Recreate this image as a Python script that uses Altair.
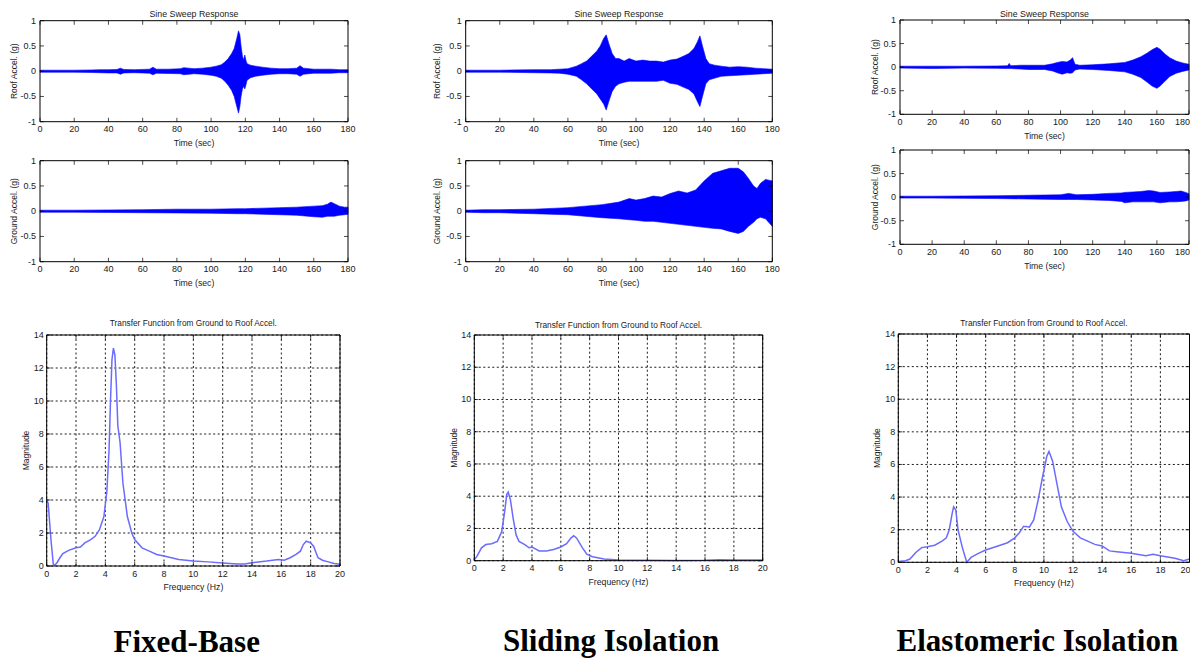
import altair as alt
import pandas as pd

# ---------------- data ----------------
# Fixed-Base : roof acceleration envelope
fb_roof_t = [0, 10, 20, 30, 35, 40, 45, 47, 49, 55, 60, 64, 66, 68, 75, 82, 84, 90, 95, 100, 103, 106, 108, 110, 112,
             113.5, 115, 116, 116.8, 117.5, 118.3, 119, 119.7, 120.3, 121, 123, 126, 130, 135, 140, 145, 150, 152, 154,
             160, 170, 175, 180]
fb_roof_hi = [0.02, 0.02, 0.02, 0.025, 0.03, 0.03, 0.035, 0.06, 0.035, 0.03, 0.035, 0.04, 0.08, 0.04, 0.04, 0.05, 0.07,
              0.05, 0.06, 0.08, 0.1, 0.13, 0.18, 0.25, 0.35, 0.45, 0.65, 0.8, 0.72, 0.5, 0.3, 0.22, 0.32, 0.22, 0.15,
              0.12, 0.1, 0.08, 0.06, 0.05, 0.05, 0.06, 0.11, 0.06, 0.04, 0.04, 0.03, 0.03]
fb_roof_lo = [-0.02, -0.02, -0.02, -0.025, -0.03, -0.035, -0.035, -0.06, -0.035, -0.03, -0.035, -0.04, -0.07, -0.04,
              -0.045, -0.05, -0.07, -0.05, -0.06, -0.08, -0.1, -0.14, -0.2, -0.28, -0.38, -0.5, -0.7, -0.83, -0.7, -0.5,
              -0.35, -0.3, -0.35, -0.28, -0.18, -0.13, -0.1, -0.08, -0.06, -0.05, -0.05, -0.06, -0.1, -0.06, -0.04,
              -0.04, -0.03, -0.03]
# Fixed-Base : ground acceleration envelope
fb_gnd_t = [0, 20, 40, 60, 80, 100, 115, 120, 140, 150, 160, 165, 168, 170, 172, 175, 178, 180]
fb_gnd_hi = [0.02, 0.02, 0.025, 0.03, 0.04, 0.04, 0.05, 0.05, 0.07, 0.08, 0.1, 0.11, 0.14, 0.18, 0.15, 0.1, 0.08, 0.08]
fb_gnd_lo = [-0.02, -0.02, -0.025, -0.03, -0.035, -0.04, -0.05, -0.05, -0.07, -0.08, -0.11, -0.12, -0.1, -0.1, -0.1,
             -0.08, -0.07, -0.06]
# Fixed-Base : transfer function
fb_tf_f = [0, 0.1, 0.3, 0.45, 0.55, 0.7, 0.9, 1.1, 1.5, 2.0, 2.3, 2.6, 3.0, 3.3, 3.6, 3.9, 4.1, 4.25, 4.35, 4.45, 4.55,
           4.65, 4.75, 4.85, 5.0, 5.2, 5.5, 5.8, 6.0, 6.5, 7.0, 7.5, 8, 9, 10, 11, 12, 13, 13.5, 14, 15, 15.8, 16.2,
           16.6, 17.0, 17.3, 17.5, 17.7, 18.0, 18.2, 18.5, 18.8, 19.2, 19.6, 20]
fb_tf_m = [4.0, 3.8, 1.5, 0.1, 0.05, 0.2, 0.5, 0.75, 0.95, 1.1, 1.15, 1.4, 1.6, 1.8, 2.2, 3.0, 4.5, 7.0, 10.0, 12.5,
           13.2, 12.8, 11.0, 8.5, 7.5, 5.0, 3.0, 2.0, 1.6, 1.1, 0.9, 0.7, 0.6, 0.4, 0.3, 0.25, 0.18, 0.12, 0.12, 0.2,
           0.3, 0.4, 0.35, 0.5, 0.7, 0.9, 1.3, 1.5, 1.4, 1.2, 0.5, 0.35, 0.25, 0.15, 0.1]

# Sliding Isolation : roof acceleration envelope
sl_roof_t = [0, 20, 40, 50, 55, 60, 65, 68, 71, 74, 77, 79, 81, 82.5, 84, 86, 88, 90, 93, 96, 100, 104, 108, 112, 116,
             120, 124, 128, 131, 134, 136, 137.5, 139, 141, 143, 146, 150, 155, 160, 165, 170, 175, 180]
sl_roof_hi = [0.02, 0.02, 0.03, 0.03, 0.04, 0.05, 0.1, 0.15, 0.2, 0.3, 0.4, 0.5, 0.65, 0.72, 0.55, 0.35, 0.25, 0.25,
              0.2, 0.25, 0.2, 0.22, 0.2, 0.2, 0.18, 0.22, 0.24, 0.3, 0.35, 0.45, 0.58, 0.7, 0.5, 0.25, 0.15, 0.12, 0.1,
              0.08, 0.09, 0.08, 0.06, 0.05, 0.04]
sl_roof_lo = [-0.02, -0.02, -0.03, -0.035, -0.04, -0.06, -0.1, -0.17, -0.25, -0.35, -0.45, -0.55, -0.65, -0.77, -0.6,
              -0.4, -0.3, -0.25, -0.22, -0.2, -0.2, -0.2, -0.2, -0.2, -0.18, -0.24, -0.26, -0.32, -0.36, -0.45, -0.6,
              -0.7, -0.5, -0.25, -0.17, -0.14, -0.1, -0.09, -0.08, -0.07, -0.06, -0.05, -0.04]
# Sliding Isolation : ground acceleration envelope
sl_gnd_t = [0, 10, 20, 40, 60, 70, 80, 90, 96, 100, 105, 110, 115, 120, 125, 130, 135, 140, 145, 150, 155, 160, 163,
            166, 169, 171, 173, 176, 180]
sl_gnd_hi = [0.02, 0.03, 0.03, 0.04, 0.07, 0.1, 0.13, 0.18, 0.25, 0.22, 0.25, 0.3, 0.28, 0.35, 0.4, 0.36, 0.42, 0.6,
             0.75, 0.8, 0.85, 0.85, 0.78, 0.65, 0.5, 0.45, 0.55, 0.63, 0.6]
sl_gnd_lo = [-0.02, -0.03, -0.03, -0.05, -0.07, -0.1, -0.13, -0.15, -0.17, -0.18, -0.2, -0.2, -0.22, -0.24, -0.26,
             -0.28, -0.3, -0.32, -0.34, -0.35, -0.4, -0.44, -0.4, -0.3, -0.22, -0.15, -0.12, -0.15, -0.3]
# Sliding Isolation : transfer function
sl_tf_f = [0, 0.2, 0.5, 0.8, 1.2, 1.6, 1.9, 2.1, 2.25, 2.35, 2.5, 2.7, 2.9, 3.1, 3.5, 3.8, 4.0, 4.2, 4.5, 5.0, 5.5, 6.0,
           6.4, 6.7, 6.9, 7.1, 7.5, 7.8, 8.2, 9, 10, 12, 14, 16, 17, 18, 20]
sl_tf_m = [0.05, 0.3, 0.8, 1.0, 1.05, 1.2, 1.8, 3.0, 4.1, 4.25, 3.8, 2.6, 1.6, 1.2, 1.0, 0.8, 0.85, 0.75, 0.6, 0.6, 0.7,
           0.85, 1.05, 1.4, 1.55, 1.4, 0.8, 0.4, 0.25, 0.1, 0.05, 0.03, 0.02, 0.03, 0.06, 0.04, 0.05]

# Elastomeric Isolation : roof acceleration envelope
el_roof_t = [0, 20, 40, 60, 67, 68, 69, 75, 80, 90, 95, 98, 101, 104, 106, 107.5, 109, 112, 120, 130, 140, 145, 150,
             154, 157, 160, 162, 165, 168, 172, 176, 180]
el_roof_hi = [0.02, 0.02, 0.02, 0.025, 0.03, 0.08, 0.03, 0.04, 0.04, 0.04, 0.07, 0.1, 0.12, 0.11, 0.15, 0.2, 0.06,
              0.04, 0.05, 0.07, 0.1, 0.15, 0.22, 0.3, 0.37, 0.42, 0.38, 0.28, 0.2, 0.13, 0.09, 0.06]
el_roof_lo = [-0.02, -0.03, -0.02, -0.025, -0.03, -0.03, -0.03, -0.04, -0.05, -0.05, -0.08, -0.12, -0.15, -0.12,
              -0.13, -0.12, -0.06, -0.04, -0.05, -0.07, -0.1, -0.15, -0.22, -0.32, -0.4, -0.45, -0.4, -0.3, -0.2, -0.13,
              -0.09, -0.06]
# Elastomeric Isolation : ground acceleration envelope
el_gnd_t = [0, 20, 40, 60, 80, 100, 105, 110, 120, 130, 138, 140, 145, 150, 155, 158, 162, 168, 172, 175, 178, 180]
el_gnd_hi = [0.02, 0.02, 0.025, 0.03, 0.04, 0.05, 0.08, 0.05, 0.06, 0.08, 0.09, 0.1, 0.11, 0.12, 0.14, 0.13, 0.1,
             0.11, 0.12, 0.13, 0.1, 0.07]
el_gnd_lo = [-0.02, -0.02, -0.025, -0.03, -0.04, -0.05, -0.05, -0.05, -0.06, -0.07, -0.09, -0.12, -0.1, -0.1, -0.1,
             -0.1, -0.12, -0.1, -0.1, -0.09, -0.08, -0.06]
# Elastomeric Isolation : transfer function
el_tf_f = [0, 0.5, 0.8, 1.2, 1.6, 2.0, 2.5, 3.0, 3.3, 3.5, 3.7, 3.8, 3.95, 4.1, 4.4, 4.7, 5.0, 5.5, 6.0, 7.0, 7.5, 8.0,
           8.3, 8.6, 8.8, 9.0, 9.3, 9.6, 9.9, 10.2, 10.35, 10.6, 10.9, 11.2, 11.6, 12.0, 12.5, 13, 13.5, 14, 14.5, 15,
           16, 17, 17.5, 18, 19, 19.6, 20]
el_tf_m = [0.05, 0.1, 0.2, 0.6, 0.9, 0.95, 1.05, 1.3, 1.5, 2.0, 3.0, 3.4, 3.2, 2.0, 0.9, 0.0, 0.3, 0.55, 0.75, 1.05,
           1.2, 1.5, 1.8, 2.2, 2.2, 2.15, 2.6, 3.8, 5.2, 6.5, 6.8, 6.2, 4.8, 3.4, 2.5, 1.9, 1.5, 1.3, 1.1, 1.0, 0.7,
           0.65, 0.55, 0.4, 0.5, 0.4, 0.25, 0.1, 0.2]

# axis ticks and their labels
time_ticks = [0, 20, 40, 60, 80, 100, 120, 140, 160, 180]
time_labels = ["0", "20", "40", "60", "80", "100", "120", "140", "160", "180"]
acc_ticks = [-1, -0.5, 0, 0.5, 1]
acc_labels = ["-1", "-0.5", "0", "0.5", "1"]
freq_ticks = [0, 2, 4, 6, 8, 10, 12, 14, 16, 18, 20]
freq_labels = ["0", "2", "4", "6", "8", "10", "12", "14", "16", "18", "20"]
mag_ticks = [0, 2, 4, 6, 8, 10, 12, 14]
mag_labels = ["0", "2", "4", "6", "8", "10", "12", "14"]
sweep_title = "Sine Sweep Response"
tf_title = "Transfer Function from Ground to Roof Accel."
case_names = ["Fixed-Base", "Sliding Isolation", "Elastomeric Isolation"]

# ---------------- layout / style ----------------
W, H = 1182, 651
OX, OY = 8, 8
FONT = "Liberation Sans"
TXT = "#1a1a1a"


def panel(kind, t, a, b, box, xdom, ydom, xt, xl, yt, yl, xtitle, ytitle,
          title=None, title_off=0, ytitle_off=-29, ylab_off=-4, xtitle_off=21.5,
          label=None, label_x=10, label_off=90, grid=False, flush_last=False):
    L, R, T, B = box
    xs = alt.Scale(domain=xdom, range=[L - OX, R - OX], nice=False, zero=False)
    ys = alt.Scale(domain=ydom, range=[B - OY, T - OY], nice=False, zero=False)

    def X(f):
        return alt.X(f, type="quantitative", scale=xs, axis=None)

    def Y(f):
        return alt.Y(f, type="quantitative", scale=ys, axis=None)

    layers = []
    if grid:
        gx = pd.DataFrame({"v": xt, "y0": ydom[0], "y1": ydom[1]})
        gy = pd.DataFrame({"v": yt, "x0": xdom[0], "x1": xdom[1]})
        layers.append(alt.Chart(gx).mark_rule(color="#000000", strokeWidth=0.9, strokeDash=[2, 2.5]).encode(
            x=X("v"), y=Y("y0"), y2="y1"))
        layers.append(alt.Chart(gy).mark_rule(color="#000000", strokeWidth=0.9, strokeDash=[2, 2.5]).encode(
            y=Y("v"), x=X("x0"), x2="x1"))

    if kind == "area":
        d = pd.DataFrame({"t": t, "hi": a, "lo": b})
        layers.append(alt.Chart(d).mark_area(color="#0000ff", opacity=1, strokeWidth=0.6, stroke="#0000ff").encode(
            x=X("t"), y=Y("hi"), y2="lo"))
    else:
        d = pd.DataFrame({"f": t, "m": a})
        layers.append(alt.Chart(d).mark_line(color="#6b6bff", strokeWidth=1.5).encode(
            x=X("f"), y=Y("m")))

    # frame
    fr = pd.DataFrame({"x0": [xdom[0]], "x1": [xdom[1]], "y0": [ydom[0]], "y1": [ydom[1]],
                       "xm": [(xdom[0] + xdom[1]) / 2], "ym": [(ydom[0] + ydom[1]) / 2],
                       "xtitle": [xtitle], "ytitle": [ytitle]})
    layers.append(alt.Chart(fr).mark_rect(fill="transparent", stroke="#000000", strokeWidth=1).encode(
        x=X("x0"), x2="x1", y=Y("y0"), y2="y1"))

    # inward ticks on all four sides
    tb = pd.DataFrame({"v": xt, "s": xl, "lo": ydom[0], "hi": ydom[1]})
    tl = pd.DataFrame({"v": yt, "s": yl, "lo": xdom[0], "hi": xdom[1]})
    layers.append(alt.Chart(tb).mark_tick(orient="vertical", size=4, thickness=1, color="#000000",
                                          yOffset=-2).encode(x=X("v"), y=Y("lo")))
    layers.append(alt.Chart(tb).mark_tick(orient="vertical", size=4, thickness=1, color="#000000",
                                          yOffset=2).encode(x=X("v"), y=Y("hi")))
    layers.append(alt.Chart(tl).mark_tick(orient="horizontal", size=4, thickness=1, color="#000000",
                                          xOffset=2).encode(y=Y("v"), x=X("lo")))
    layers.append(alt.Chart(tl).mark_tick(orient="horizontal", size=4, thickness=1, color="#000000",
                                          xOffset=-2).encode(y=Y("v"), x=X("hi")))

    # tick labels (the last one kept inside the page when the panel touches the right edge)
    tb_main = tb.iloc[:-1] if flush_last else tb
    layers.append(alt.Chart(tb_main).mark_text(font=FONT, fontSize=9, color=TXT, align="center",
                                               baseline="middle", yOffset=7.5).encode(
        x=X("v"), y=Y("lo"), text="s:N"))
    if flush_last:
        layers.append(alt.Chart(tb.iloc[-1:]).mark_text(font=FONT, fontSize=9, color=TXT, align="right",
                                                        baseline="middle", yOffset=7.5, xOffset=1).encode(
            x=X("v"), y=Y("lo"), text="s:N"))
    layers.append(alt.Chart(tl).mark_text(font=FONT, fontSize=9, color=TXT, align="right", baseline="middle",
                                          xOffset=ylab_off).encode(x=X("lo"), y=Y("v"), text="s:N"))
    # axis titles
    layers.append(alt.Chart(fr).mark_text(font=FONT, fontSize=8.7, color=TXT, align="center", baseline="middle",
                                          yOffset=xtitle_off).encode(x=X("xm"), y=Y("y0"), text="xtitle:N"))
    layers.append(alt.Chart(fr).mark_text(font=FONT, fontSize=8.5, color=TXT, align="center", baseline="middle",
                                          angle=270, xOffset=ytitle_off).encode(x=X("x0"), y=Y("ym"),
                                                                               text="ytitle:N"))

    if title:
        td = pd.DataFrame({"x": [(xdom[0] + xdom[1]) / 2], "y": [ydom[1]], "s": [title]})
        layers.append(alt.Chart(td).mark_text(font=FONT, fontSize=8.3 if kind == "line" else 8.8, color=TXT,
                                              baseline="middle", align="center", yOffset=title_off).encode(
            x=X("x"), y=Y("y"), text="s:N"))
    if label:
        ld = pd.DataFrame({"x": [label_x], "y": [ydom[0]], "s": [label]})
        layers.append(alt.Chart(ld).mark_text(font="Liberation Serif", fontSize=31, fontWeight="bold",
                                              color="#000000", baseline="alphabetic", align="center",
                                              yOffset=label_off).encode(x=X("x"), y=Y("y"), text="s:N"))
    return alt.layer(*layers)


T_DOM = [0, 180]
A_DOM = [-1, 1]
F_DOM = [0, 20]
M_DOM = [0, 14]
TIME = (time_ticks, time_labels, acc_ticks, acc_labels)
FREQ = (freq_ticks, freq_labels, mag_ticks, mag_labels)

panels = [
    # Fixed-Base
    panel("area", fb_roof_t, fb_roof_hi, fb_roof_lo, (40, 348, 20.7, 121.7), T_DOM, A_DOM, *TIME,
          "Time (sec)", "Roof Accel.  (g)", sweep_title, title_off=-7, ytitle_off=-26),
    panel("area", fb_gnd_t, fb_gnd_hi, fb_gnd_lo, (40, 348, 160.7, 261.7), T_DOM, A_DOM, *TIME,
          "Time (sec)", "Ground Accel.  (g)", ytitle_off=-26),
    panel("line", fb_tf_f, fb_tf_m, None, (46.7, 340, 335, 566), F_DOM, M_DOM, *FREQ,
          "Frequency (Hz)", "Magnitude", tf_title, title_off=-11, ytitle_off=-21, ylab_off=-3, xtitle_off=20.5,
          label=case_names[0], label_x=9.55, label_off=86, grid=True),
    # Sliding Isolation
    panel("area", sl_roof_t, sl_roof_hi, sl_roof_lo, (465.7, 772.3, 20.7, 121.7), T_DOM, A_DOM, *TIME,
          "Time (sec)", "Roof Accel.  (g)", sweep_title, title_off=-7),
    panel("area", sl_gnd_t, sl_gnd_hi, sl_gnd_lo, (465.7, 772.3, 160.7, 261.7), T_DOM, A_DOM, *TIME,
          "Time (sec)", "Ground Accel.  (g)"),
    panel("line", sl_tf_f, sl_tf_m, None, (474.3, 762.7, 335, 560.7), F_DOM, M_DOM, *FREQ,
          "Frequency (Hz)", "Magnitude", tf_title, title_off=-9.5, ytitle_off=-20, ylab_off=-3, xtitle_off=21,
          label=case_names[1], label_x=9.48, label_off=90.5, grid=True),
    # Elastomeric Isolation
    panel("area", el_roof_t, el_roof_hi, el_roof_lo, (900, 1189, 20, 114.3), T_DOM, A_DOM, *TIME,
          "Time (sec)", "Roof Accel. (g)", sweep_title, title_off=-6.3, ytitle_off=-25, flush_last=True),
    panel("area", el_gnd_t, el_gnd_hi, el_gnd_lo, (900, 1189, 150, 244.3), T_DOM, A_DOM, *TIME,
          "Time (sec)", "Ground Accel.  (g)", ytitle_off=-25, flush_last=True),
    panel("line", el_tf_f, el_tf_m, None, (898.3, 1189.5, 334, 562.3), F_DOM, M_DOM, *FREQ,
          "Frequency (Hz)", "Magnitude", tf_title, title_off=-10, ytitle_off=-21.5, ylab_off=-3, xtitle_off=20.5,
          label=case_names[2], label_x=9.55, label_off=89, grid=True, flush_last=True),
]

chart = alt.layer(*panels).resolve_scale(x="independent", y="independent").properties(
    width=W, height=H, padding=0, autosize=alt.AutoSizeParams(type="none"),
    background="white",
).configure_view(strokeWidth=0)

chart.save("out.html", embed_options={"renderer": "svg", "actions": False})
